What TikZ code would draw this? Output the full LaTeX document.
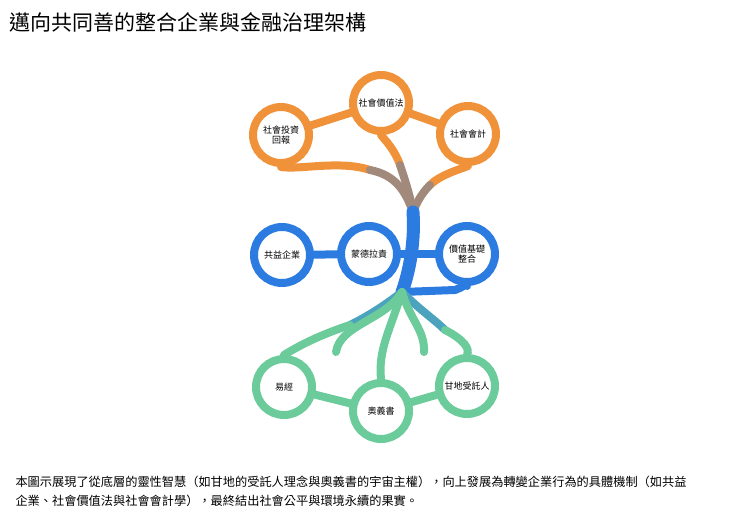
\documentclass[tikz,border=0pt]{standalone}
\usepackage{fontspec}
\setmainfont{Noto Sans CJK TC}
\usetikzlibrary{backgrounds}
\definecolor{fruit}{HTML}{F0923A}
\definecolor{trunk}{HTML}{2B7BE0}
\definecolor{root}{HTML}{6CCB9A}
\tikzset{
  ring/.style={circle,draw=#1,line width=8pt,fill=white,minimum size=56pt,inner sep=0pt,align=center,font=\fontsize{9}{10}\selectfont},
  band/.style={draw=#1,line width=8pt,line cap=round}
}
\begin{document}
\begin{tikzpicture}[x=1pt,y=-1pt]
\useasboundingbox (0,0) rectangle (740,516);
\node[anchor=west,font=\fontsize{21}{23}\selectfont] (title) at (6,22) {邁向共同善的整合企業與金融治理架構};

% upper circles
\node[ring=fruit] (roi) at (281,135) {社會投資\\回報};
\node[ring=fruit] (law) at (381,103) {社會價值法};
\node[ring=fruit] (acc) at (468,134) {社會會計};
% middle circles
\node[ring=trunk] (bcorp) at (282,255) {共益企業};
\node[ring=trunk] (mond) at (369,254) {蒙德拉責};
\node[ring=trunk] (value) at (467,254) {價值基礎\\整合};
% lower circles
\node[ring=root] (yijing) at (284,387) {易經};
\node[ring=root] (upan) at (381,411) {奧義書};
\node[ring=root] (gandhi) at (467,386) {甘地受託人};

\coordinate (top) at (413,212);
\coordinate (fork) at (402,292);
\coordinate (curlL) at (336,352);
\coordinate (curlR) at (424,352);

\begin{pgfonlayer}{background}
% links in rows
\draw[band=fruit] (roi) -- (law);
\draw[band=fruit] (law) -- (acc);
\draw[band=trunk] (bcorp) -- (mond);
\draw[band=trunk] (mond) -- (value);
\draw[band=root] (yijing) -- (upan);
\draw[band=root] (upan) -- (gandhi);
% branches
\draw[band=fruit] (roi.south) .. controls (300,170) and (340,160) .. (370,170);
\draw[band=fruit!60!trunk] (370,170) .. controls (395,175) and (405,190) .. (top);
\draw[band=fruit] (law.south) .. controls (385,140) and (395,150) .. (400,165);
\draw[band=fruit!60!trunk] (400,165) .. controls (405,180) and (410,195) .. (top);
\draw[band=fruit] (acc.south) .. controls (458,170) and (440,175) .. (430,185);
\draw[band=fruit!60!trunk] (430,185) .. controls (420,195) and (416,205) .. (top);
% trunk
\draw[band=trunk,line width=13pt] (top) .. controls (415,240) and (410,270) .. (fork);
\draw[band=trunk] (fork) -- (455,290) .. controls (462,288) and (466,283) .. (value.south);
% roots
\draw[band=trunk!50!root] (fork) .. controls (385,305) and (370,315) .. (350,325);
\draw[band=root] (350,325) .. controls (320,335) and (300,345) .. (yijing.north);
\draw[band=trunk!50!root] (fork) .. controls (420,310) and (435,320) .. (445,330);
\draw[band=root] (445,330) .. controls (465,340) and (470,350) .. (gandhi.north);
\draw[band=root] (fork) .. controls (385,320) and (340,325) .. (curlL);
\draw[band=root] (fork) .. controls (410,320) and (425,330) .. (curlR);
\draw[band=root] (fork) .. controls (390,330) and (378,350) .. (upan.north);
\end{pgfonlayer}

\node[anchor=north west,align=left,font=\fontsize{12.2}{19}\selectfont] (note) at (12,473)
 {本圖示展現了從底層的靈性智慧（如甘地的受託人理念與奧義書的宇宙主權），向上發展為轉變企業行為的具體機制（如共益\\企業、社會價值法與社會會計學），最終結出社會公平與環境永續的果實。};
\end{tikzpicture}
\end{document}
